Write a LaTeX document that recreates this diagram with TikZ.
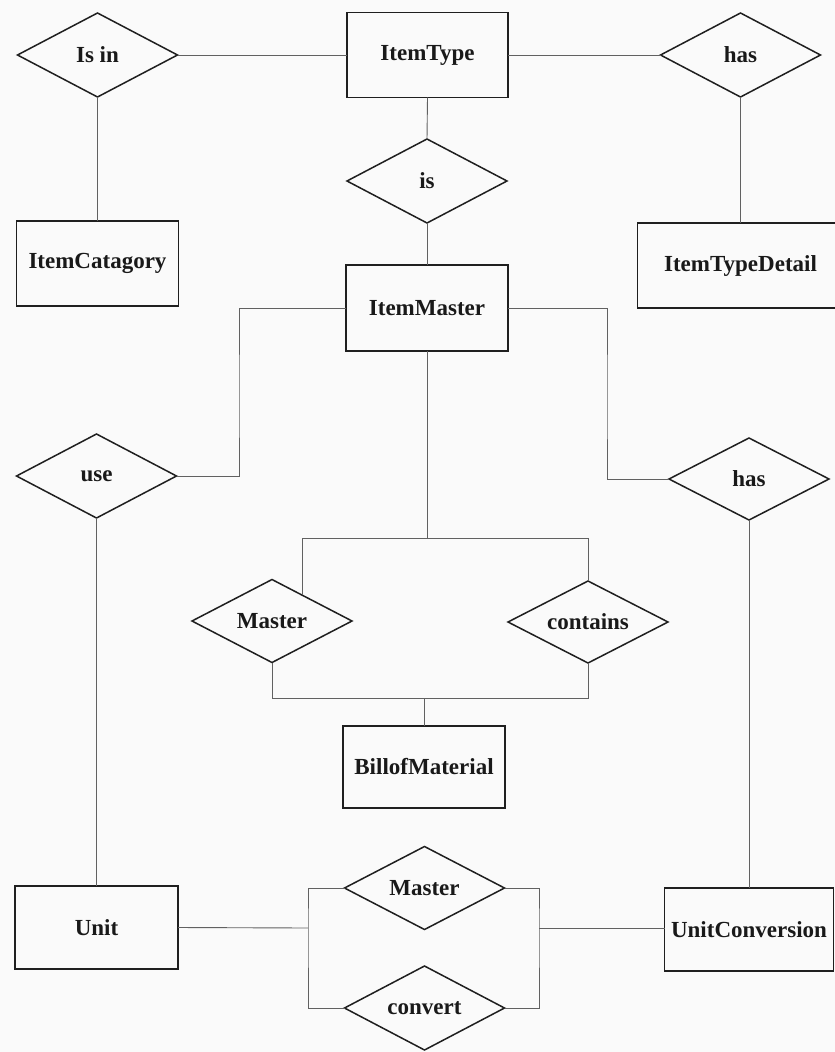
\documentclass[tikz,border=0pt]{standalone}
\usepackage{fontspec}
\setmainfont{Liberation Serif}
\usetikzlibrary{shapes.geometric,calc}
\begin{document}
\begin{tikzpicture}[x=1pt,y=-1pt,
  lbl/.style={font=\bfseries\fontsize{23}{27}\selectfont, text=black!90},
  entity/.style={lbl, rectangle, draw=black!88, line width=1.5pt, inner sep=0pt, outer sep=0pt, minimum height=85pt},
  relation/.style={lbl, diamond, draw=black!88, line width=1.5pt, aspect=1.9, inner sep=0pt, outer sep=0pt, minimum width=160pt, minimum height=84pt},
  link/.style={draw=black!62, line width=0.9pt}
]
\useasboundingbox (0,0) rectangle (835,1052);
\clip (0,0) rectangle (835,1052);
\fill[white!98!black] (0,0) rectangle (835,1052);

% entities
\node[entity, minimum width=161pt] (itemtype) at (427.5,55) {ItemType};
\node[entity, minimum width=162pt] (itemcat) at (97.5,263.5) {ItemCatagory};
\node[entity, minimum width=206pt] (typedetail) at (740.5,265.5) {ItemTypeDetail};
\node[entity, minimum width=162pt, minimum height=86pt] (itemmaster) at (427,308) {ItemMaster};
\node[entity, minimum width=162pt, minimum height=82pt] (bom) at (424,767) {BillofMaterial};
\node[entity, minimum width=163pt, minimum height=83pt] (unit) at (96.5,927.5) {Unit};
\node[entity, minimum width=169pt, minimum height=83pt] (unitconv) at (749,929.5) {UnitConversion};

% relationships
\node[relation] (isin) at (97.5,55) {Is in};
\node[relation] (hastop) at (740.5,55) {has};
\node[relation] (is) at (427,181) {is};
\node[relation] (use) at (96.5,476) {use};
\node[relation, minimum height=82pt] (hasmid) at (749,479) {has};
\node[relation, minimum height=83pt] (masterbom) at (272,621) {Master};
\node[relation, minimum height=82pt] (contains) at (588,622) {contains};
\node[relation, minimum height=83pt] (masterunit) at (424.5,888) {Master};
\node[relation] (convert) at (424.5,1008) {convert};

% bend and junction points of the connectors
\coordinate (useknee) at (239,400);
\coordinate (hasknee) at (607,400);
\coordinate (bomtop) at (424,538);
\coordinate (bombot) at (424,698);
\coordinate (masterhit) at ($(masterbom.north)!0.375!(masterbom.east)$);
\coordinate (unitbar) at (308,928);
\coordinate (convbar) at (539,928);

% connectors
\draw[link] (isin.east) -- (itemtype.west);
\draw[link] (itemtype.east) -- (hastop.west);
\draw[link] (isin.south) -- (itemcat.north);
\draw[link] (hastop.south) -- (typedetail.north);
\draw[link] (itemtype.south) -- (is.north);
\draw[link] (is.south) -- (itemmaster.north);
\draw[link] (itemmaster.west) -| (useknee) |- (use.east);
\draw[link] (itemmaster.east) -| (hasknee) |- (hasmid.west);
\draw[link] (use.south) -- (unit.north);
\draw[link] (hasmid.south) -- (unitconv.north);

\draw[link] (itemmaster.south) -- (itemmaster.south |- bomtop);
\draw[link] (masterhit) -- (masterhit |- bomtop) -- (contains.north |- bomtop) -- (contains.north);
\draw[link] (masterbom.south) -- (masterbom.south |- bombot) -- (contains.south |- bombot) -- (contains.south);
\draw[link] (bom.north) -- (bom.north |- bombot);

\draw[link] (unit.east) -- (unitbar);
\draw[link] (masterunit.west) -| (unitbar) |- (convert.west);
\draw[link] (masterunit.east) -| (convbar) |- (convert.east);
\draw[link] (convbar) -- (unitconv.west |- convbar);
\end{tikzpicture}
\end{document}
